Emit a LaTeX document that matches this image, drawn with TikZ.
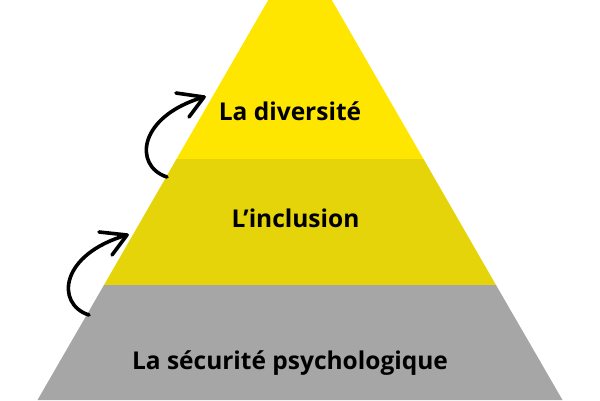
\documentclass[tikz,border=0pt]{standalone}
\usepackage{fontspec}
\setmainfont{Open Sans}
\definecolor{topyellow}{HTML}{FFE600}
\definecolor{midyellow}{HTML}{E6D40A}
\definecolor{basegray}{HTML}{A6A6A6}
\begin{document}
\begin{tikzpicture}
        [x=1pt, y=-1pt,
         layer_label/.style={anchor=base, inner sep=0pt, font=\fontsize{24.5}{28}\selectfont\bfseries},
         hand_arrow/.style={draw=black, line width=3.6pt, line cap=round, line join=round}]
            \useasboundingbox (0, 0) rectangle (600, 400);
            % pyramid bands
            \coordinate (apex) at (300, -55);
            \fill[topyellow] (apex) -- (176.5, 159) -- (423.5, 159) -- cycle;
            \fill[midyellow] (176.5, 159) -- (104, 285) -- (496, 285) -- (423.5, 159) -- cycle;
            \fill[basegray] (104, 285) -- (37.5, 400) -- (562.5, 400) -- (496, 285) -- cycle;
            % labels
            \node[layer_label] (diversite) at (290, 120)  {La diversité};
            \node[layer_label] (inclusion) at (295.5, 227)  {L’inclusion};
            \node[layer_label] (securite) at (290, 369)  {La sécurité psychologique};
            % arrows
            \coordinate (up_tail) at (167, 177);
            \coordinate (up_tip) at (204, 97);
            \coordinate (up_barb_a) at (176, 93);
            \coordinate (up_barb_b) at (189, 117);
            \coordinate (low_tail) at (89, 315);
            \coordinate (low_tip) at (127, 235);
            \coordinate (low_barb_a) at (99, 232);
            \coordinate (low_barb_b) at (112, 255);
            \draw[hand_arrow]  (up_tail) .. controls (133, 166) and (138, 116) .. (up_tip);
            \draw[hand_arrow]  (up_barb_a) -- (up_tip) -- (up_barb_b);
            \draw[hand_arrow]  (low_tail) .. controls (55, 304) and (60, 254) .. (low_tip);
            \draw[hand_arrow]  (low_barb_a) -- (low_tip) -- (low_barb_b);
        \end{tikzpicture}
\end{document}
